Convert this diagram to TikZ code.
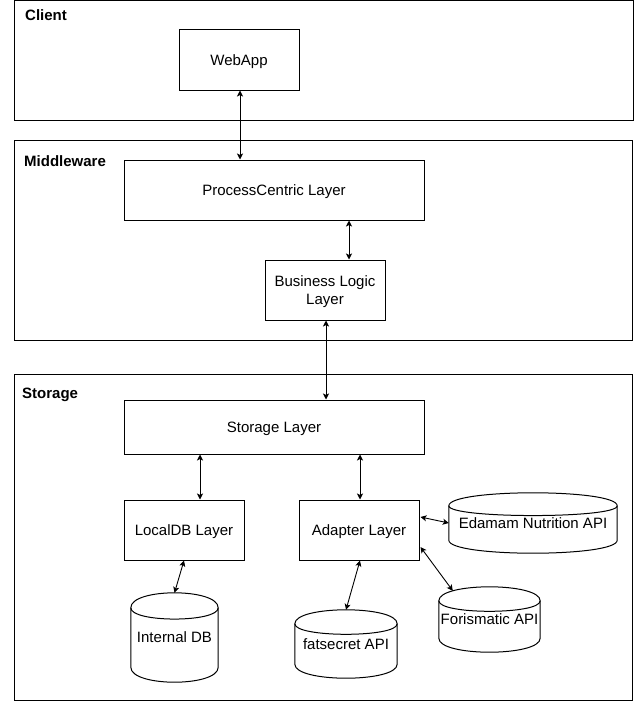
\documentclass[tikz,border=0pt]{standalone}
\usepackage{fontspec}
\setmainfont{Liberation Sans}
\usetikzlibrary{calc,arrows.meta}
\tikzset{
  box/.style={draw, line width=1pt, minimum width=120pt, minimum height=60pt, inner sep=0pt, align=center, text depth=0pt, font=\fontsize{15}{18}\selectfont},
  container/.style={draw, line width=1pt, inner sep=0pt},
  title/.style={anchor=west, inner sep=0pt, font=\fontsize{15}{18}\selectfont\bfseries},
  cylbase/.style={draw=none, inner sep=0pt, align=center, text depth=0pt, font=\fontsize{15}{18}\selectfont},
  arr/.style={line width=0.9pt, {Stealth[length=6pt,width=6pt,inset=1.5pt]}-{Stealth[length=6pt,width=6pt,inset=1.5pt]}},
  cylline/.style={line width=1pt}
}
\newcommand{\mycyl}[2]{%
  \draw[cylline] ($(#1.north west)+(0,#2)$) .. controls ($(#1.north west)+(0,-#2/3)$) and ($(#1.north east)+(0,-#2/3)$) .. ($(#1.north east)+(0,#2)$)
    -- ($(#1.south east)+(0,-#2)$) .. controls ($(#1.south east)+(0,#2/3)$) and ($(#1.south west)+(0,#2/3)$) .. ($(#1.south west)+(0,-#2)$) -- cycle;
  \draw[cylline] ($(#1.north west)+(0,#2)$) .. controls ($(#1.north west)+(0,2*#2)$) and ($(#1.north east)+(0,2*#2)$) .. ($(#1.north east)+(0,#2)$);
}
\begin{document}
\begin{tikzpicture}[x=1pt,y=-1pt]
\useasboundingbox (0,0) rectangle (634,701);
% containers
\node[container, minimum width=619pt, minimum height=119.5pt] (client) at (323.5,60.25) {};
\node[container, minimum width=618pt, minimum height=199.5pt] (mid) at (323,240.25) {};
\node[container, minimum width=618pt, minimum height=326pt] (stor) at (323,537) {};
\node[title] (tclient) at (25,15) {Client};
\node[title] (tmid) at (24,161) {Middleware};
\node[title] (tstor) at (22,395) {Storage};
% boxes
\node[box] (web) at (239,60) {WebApp};
\node[box, minimum width=300pt] (pc) at (274,190) {ProcessCentric Layer};
\node[box] (bl) at (325,290) {Business Logic\\Layer};
\node[box, minimum width=300pt, minimum height=54pt] (sl) at (274,427) {Storage Layer};
\node[box] (ldb) at (184,530) {LocalDB Layer};
\node[box] (al) at (359,530) {Adapter Layer};
% cylinders
\node[cylbase, minimum width=87pt, minimum height=89pt] (idb) at (174.5,637.5) {Internal DB};
\node[cylbase, minimum width=102pt, minimum height=68pt] (fs) at (346,644) {fatsecret API};
\node[cylbase, minimum width=168pt, minimum height=60pt] (ed) at (533,523) {Edamam Nutrition API};
\node[cylbase, minimum width=101pt, minimum height=65pt] (fo) at (489.5,619.5) {Forismatic API};
\mycyl{idb}{15}
\mycyl{fs}{14}
\mycyl{ed}{13}
\mycyl{fo}{14}
% connectors
\draw[arr] (web.south -| 240,0) -- (pc.north -| 240,0);
\draw[arr] (pc.south -| 349,0) -- (bl.north -| 349,0);
\draw[arr] (bl.south -| 326,0) -- (sl.north -| 326,0);
\draw[arr] (sl.south -| 200,0) -- (ldb.north -| 200,0);
\draw[arr] (sl.south -| 360,0) -- (al.north -| 360,0);
\draw[arr] (ldb.south) -- (idb.north);
\draw[arr] ([xshift=1pt]al.south) -- (fs.north);
\draw[arr] ($(al.east)+(1,-13)$) -- (ed.west);
\draw[arr] ($(al.east)+(1,17)$) -- ($(fo.north west)+(14,4)$);
\end{tikzpicture}
\end{document}
